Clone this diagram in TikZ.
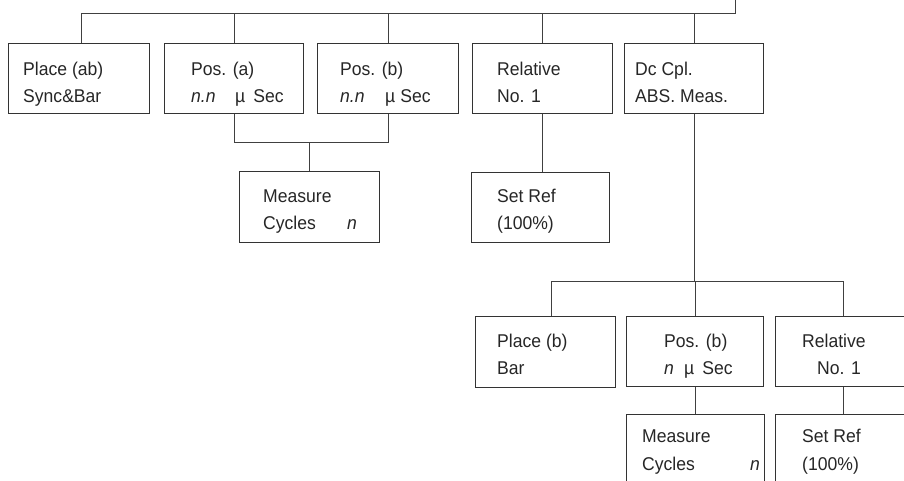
\documentclass[tikz,border=0pt]{standalone}
\usepackage{fontspec}
\setmainfont{Liberation Sans}[FakeStretch=0.95]
\begin{document}
\begin{tikzpicture}[x=1pt,y=-1pt,
  box/.style={draw=black!80, line width=0.9pt, rectangle, inner sep=0pt, anchor=north west},
  wire/.style={draw=black!75, line width=0.9pt},
  txt/.style={anchor=base west, inner sep=0pt, font=\fontsize{18.5}{20}\selectfont, text=black!85}]
\useasboundingbox (0,0) rectangle (904,480);
\clip (0,0) rectangle (904,480);
% boxes
\node[box, minimum width=141pt, minimum height=70pt] (b1) at (8,43) {};
\node[box, minimum width=139pt, minimum height=70pt] (b2) at (164,43) {};
\node[box, minimum width=141pt, minimum height=70pt] (b3) at (317,43) {};
\node[box, minimum width=140pt, minimum height=70pt] (b4) at (472,43) {};
\node[box, minimum width=139pt, minimum height=70pt] (b5) at (624,43) {};
\node[box, minimum width=140pt, minimum height=71pt] (m1) at (239,171) {};
\node[box, minimum width=138pt, minimum height=70pt] (s1) at (471,172) {};
\node[box, minimum width=140pt, minimum height=71pt] (c1) at (475,316) {};
\node[box, minimum width=137pt, minimum height=70pt] (c2) at (626,316) {};
\node[box, minimum width=136pt, minimum height=70pt] (c3) at (775,316) {};
\node[box, minimum width=138pt, minimum height=72pt] (d1) at (626,414) {};
\node[box, minimum width=136pt, minimum height=72pt] (d2) at (775,414) {};
% junction coordinates
\coordinate (topS) at (735,0);
\coordinate (topE) at (735,13);
\coordinate (topW) at (81,13);
\coordinate (jm) at (309,142);
\coordinate (hL) at (551,281);
\coordinate (hR) at (843,281);
% connectors
\draw[wire] (topS) -- (topE) -- (topW) -- (topW |- b1.north);
\draw[wire] (b2.north) -- (b2.north |- topE);
\draw[wire] (b3.north) -- (b3.north |- topE);
\draw[wire] (b4.north) -- (b4.north |- topE);
\draw[wire] (b5.north) -- (b5.north |- topE);
\draw[wire] (b2.south) |- (b3.south |- jm) -- (b3.south);
\draw[wire] (jm) -- (jm |- m1.north);
\draw[wire] (b4.south) -- (b4.south |- s1.north);
\draw[wire] (b5.south) -- (b5.south |- hL);
\draw[wire] (hL) -- (hR);
\draw[wire] (hL) -- (hL |- c1.north);
\draw[wire] (c2.north) -- (c2.north |- hL);
\draw[wire] (hR) -- (hR |- c3.north);
\draw[wire] (c2.south) -- (c2.south |- d1.north);
\draw[wire] (hR |- c3.south) -- (hR |- d2.north);
% texts
\node[txt] (t1a) at (23,75) {Place (ab)};
\node[txt] (t1b) at (23,102) {Sync\&Bar};
\node[txt] (t2a) at (191,75) {Pos. (a)};
\node[txt] (t2b) at (191,102) {\itshape n.n};
\node[txt] (t2c) at (235,102) {µ\hspace{8pt}Sec};
\node[txt] (t3a) at (340,75) {Pos. (b)};
\node[txt] (t3b) at (340,102) {\itshape n.n};
\node[txt] (t3c) at (385,102) {µ\hspace{5pt}Sec};
\node[txt] (t4a) at (497,75) {Relative};
\node[txt] (t4b) at (497,102) {No. 1};
\node[txt] (t5a) at (635,75) {Dc Cpl.};
\node[txt] (t5b) at (635,102) {ABS. Meas.};
\node[txt] (tma) at (263,202) {Measure};
\node[txt] (tmb) at (263,229) {Cycles};
\node[txt] (tmc) at (347,229) {\itshape n};
\node[txt] (tsa) at (497,202) {Set Ref};
\node[txt] (tsb) at (497,229) {(100\%)};
\node[txt] (tc1a) at (497,347) {Place (b)};
\node[txt] (tc1b) at (497,374) {Bar};
\node[txt] (tc2a) at (664,347) {Pos. (b)};
\node[txt] (tc2b) at (664,374) {\itshape n};
\node[txt] (tc2c) at (684,374) {µ\hspace{8pt}Sec};
\node[txt] (tc3a) at (802,347) {Relative};
\node[txt] (tc3b) at (817,374) {No. 1};
\node[txt] (td1a) at (642,442) {Measure};
\node[txt] (td1b) at (642,470) {Cycles};
\node[txt] (td1c) at (750,470) {\itshape n};
\node[txt] (td2a) at (802,442) {Set Ref};
\node[txt] (td2b) at (802,470) {(100\%)};
\end{tikzpicture}
\end{document}
